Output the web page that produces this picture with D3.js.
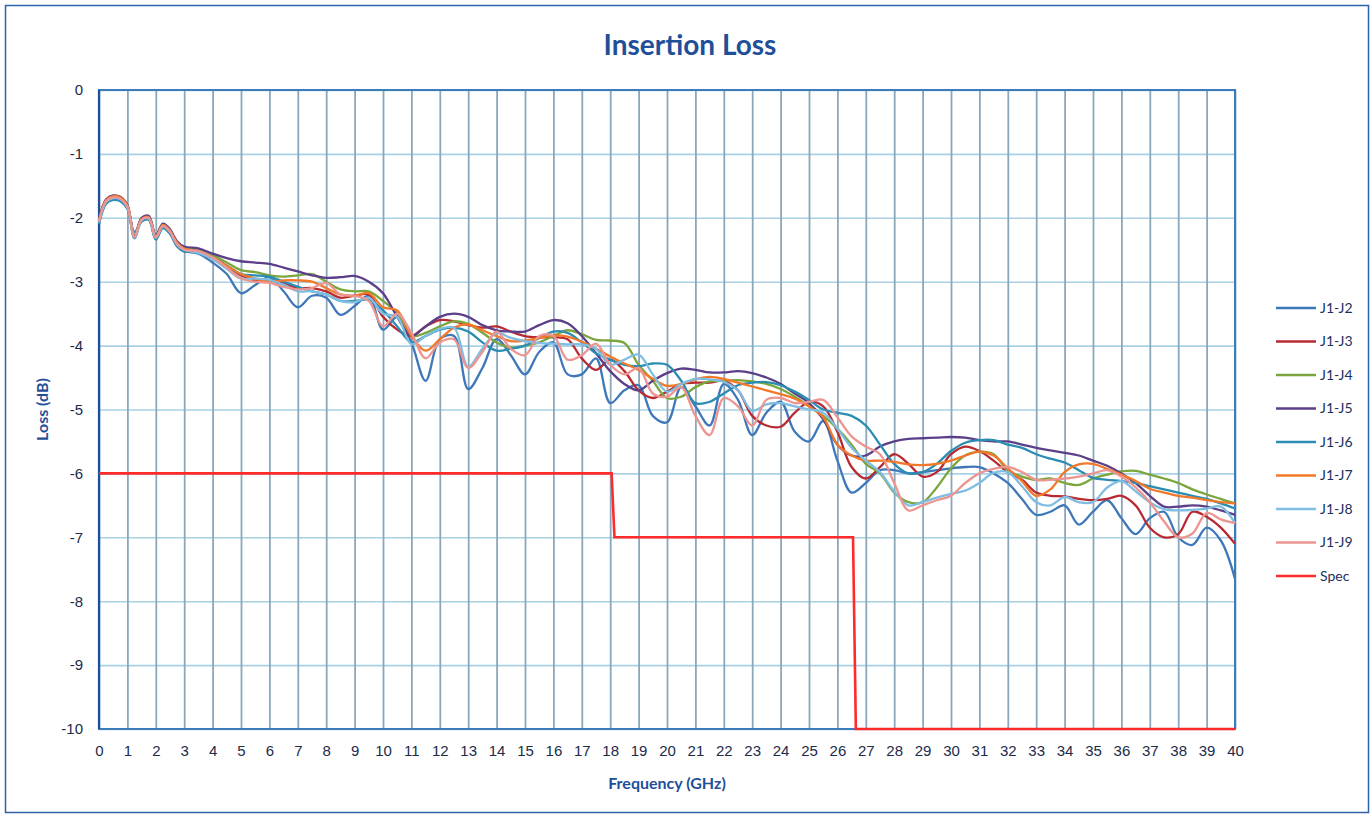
<!DOCTYPE html>
<html>
<head>
<meta charset="utf-8">
<script src="https://cdn.jsdelivr.net/npm/d3@7"></script>
<style>
  body { margin: 0; background: #fff; }
  svg { font-family: Lato, "Open Sans", sans-serif; }
</style>
</head>
<body>
<div id="chart"></div>
<script>
// frequency points (GHz)
var freq = [0, 0.25, 0.5, 0.75, 1, 1.25, 1.5, 1.75, 2, 2.25, 2.5, 2.75, 3,
  3.5, 4, 4.5, 5, 5.5, 6, 6.5, 7, 7.5, 8, 8.5, 9, 9.5, 10,
  10.5, 11, 11.5, 12, 12.5, 13, 13.5, 14, 14.5, 15, 15.5, 16, 16.5, 17, 17.5, 18, 18.5, 19, 19.5, 20,
  20.5, 21, 21.5, 22, 22.5, 23, 23.5, 24, 24.5, 25, 25.5, 26, 26.5, 27, 27.5, 28, 28.5, 29, 29.5, 30,
  30.5, 31, 31.5, 32, 32.5, 33, 33.5, 34, 34.5, 35, 35.5, 36, 36.5, 37, 37.5, 38, 38.5, 39, 39.5, 40];

var j1j2 = [-2.08, -1.76, -1.7, -1.72, -1.85, -2.32, -2.05, -2.02, -2.33, -2.15, -2.24, -2.44, -2.52,
  -2.56, -2.7, -2.88, -3.18, -3.05, -2.93, -3.15, -3.4, -3.22, -3.25, -3.52, -3.38, -3.22, -3.75,
  -3.55, -3.95, -4.55, -3.9, -3.85, -4.68, -4.35, -3.9, -4.15, -4.45, -4.1, -3.95, -4.45, -4.45, -4.2, -4.9, -4.7, -4.62, -5.1, -5.2,
  -4.65, -4.95, -5.25, -4.6, -4.85, -5.4, -5.05, -4.88, -5.35, -5.5, -5.18, -5.8, -6.3, -6.15, -5.95, -5.95, -6.0, -5.98, -5.95, -5.92,
  -5.9, -5.9, -6.0, -6.15, -6.4, -6.65, -6.6, -6.5, -6.8, -6.6, -6.42, -6.7, -6.95, -6.7, -6.6, -7.0, -7.12, -6.85, -7.05, -7.65];

var j1j3 = [-2.05, -1.73, -1.67, -1.69, -1.82, -2.3, -2.02, -2.0, -2.3, -2.12, -2.21, -2.4, -2.49,
  -2.52, -2.62, -2.75, -2.9, -2.98, -2.98, -3.02, -3.1, -3.1, -3.15, -3.25, -3.22, -3.2, -3.55,
  -3.75, -3.85, -3.7, -3.6, -3.62, -3.68, -3.72, -3.7, -3.78, -3.85, -3.87, -3.87, -3.9, -4.2, -4.38, -4.22, -4.4, -4.7, -4.82, -4.72,
  -4.6, -4.58, -4.58, -4.55, -4.7, -5.1, -5.25, -5.27, -5.05, -4.88, -4.95, -5.35, -5.9, -6.08, -5.9, -5.7, -5.85, -6.05, -5.98, -5.7,
  -5.58, -5.65, -5.8, -5.98, -6.1, -6.3, -6.35, -6.36, -6.4, -6.42, -6.4, -6.35, -6.5, -6.85, -7.0, -6.95, -6.6, -6.68, -6.85, -7.1];

var j1j4 = [-2.04, -1.72, -1.66, -1.68, -1.81, -2.28, -2.01, -1.98, -2.28, -2.1, -2.19, -2.38, -2.47,
  -2.5, -2.58, -2.7, -2.82, -2.85, -2.9, -2.92, -2.9, -2.88, -3.0, -3.12, -3.15, -3.15, -3.3,
  -3.5, -3.85, -3.8, -3.7, -3.62, -3.66, -3.8, -3.95, -4.03, -4.0, -3.95, -3.85, -3.76, -3.82, -3.91, -3.92, -3.96, -4.3, -4.55, -4.82,
  -4.8, -4.65, -4.56, -4.55, -4.54, -4.56, -4.6, -4.68, -4.8, -4.95, -5.1, -5.3, -5.55, -5.85, -6.0, -6.3, -6.45, -6.45, -6.22, -5.92,
  -5.72, -5.66, -5.7, -5.95, -6.05, -6.1, -6.08, -6.15, -6.18, -6.08, -6.02, -5.97, -5.96, -6.02, -6.08, -6.15, -6.25, -6.33, -6.4, -6.47];

var j1j5 = [-2.03, -1.71, -1.65, -1.67, -1.8, -2.28, -2.0, -1.97, -2.27, -2.09, -2.18, -2.37, -2.45,
  -2.48, -2.56, -2.63, -2.68, -2.7, -2.72, -2.78, -2.84, -2.9, -2.94, -2.93, -2.91, -3.0, -3.18,
  -3.55, -3.85, -3.7, -3.55, -3.5, -3.55, -3.68, -3.76, -3.78, -3.78, -3.68, -3.6, -3.65, -3.85, -4.12, -4.4, -4.6, -4.7, -4.55, -4.43,
  -4.36, -4.38, -4.42, -4.42, -4.4, -4.43, -4.5, -4.6, -4.75, -4.9, -5.15, -5.55, -5.72, -5.72, -5.58, -5.5, -5.46, -5.45, -5.44, -5.43,
  -5.44, -5.48, -5.5, -5.5, -5.55, -5.6, -5.64, -5.68, -5.72, -5.8, -5.88, -6.0, -6.15, -6.35, -6.52, -6.52, -6.5, -6.52, -6.58, -6.65];

var j1j6 = [-2.1, -1.78, -1.72, -1.74, -1.86, -2.22, -2.06, -2.03, -2.34, -2.16, -2.25, -2.45, -2.53,
  -2.52, -2.62, -2.75, -2.88, -2.9, -2.92, -3.0, -3.08, -3.15, -3.2, -3.3, -3.3, -3.28, -3.45,
  -3.7, -3.95, -3.85, -3.75, -3.72, -3.78, -3.95, -4.08, -4.05, -4.0, -3.88, -3.78, -3.8, -3.95, -4.12, -4.22, -4.3, -4.32, -4.28, -4.3,
  -4.55, -4.9, -4.88, -4.75, -4.62, -4.58, -4.57, -4.62, -4.72, -4.85, -5.0, -5.05, -5.1, -5.25, -5.55, -5.85, -6.0, -5.98, -5.85, -5.65,
  -5.52, -5.48, -5.48, -5.55, -5.6, -5.7, -5.77, -5.83, -5.95, -6.07, -6.1, -6.12, -6.15, -6.2, -6.25, -6.3, -6.35, -6.4, -6.47, -6.55];

var j1j7 = [-2.05, -1.72, -1.66, -1.68, -1.81, -2.29, -2.02, -1.99, -2.29, -2.11, -2.2, -2.39, -2.48,
  -2.52, -2.62, -2.75, -2.88, -2.95, -3.0, -2.98, -2.98, -3.0, -3.1, -3.2, -3.22, -3.18, -3.4,
  -3.45, -3.85, -4.08, -3.9, -3.72, -3.67, -3.76, -3.85, -3.93, -3.92, -3.88, -3.84, -3.86, -3.94, -4.05, -4.17, -4.28, -4.38, -4.52, -4.63,
  -4.6, -4.53, -4.49, -4.52, -4.58, -4.64, -4.7, -4.76, -4.83, -4.95, -5.12, -5.55, -5.72, -5.8, -5.8, -5.82, -5.86, -5.87, -5.85, -5.8,
  -5.72, -5.66, -5.72, -5.92, -6.12, -6.35, -6.25, -5.98, -5.86, -5.85, -5.93, -6.02, -6.12, -6.24, -6.3, -6.35, -6.38, -6.42, -6.45, -6.47];

var j1j8 = [-2.07, -1.75, -1.69, -1.71, -1.84, -2.31, -2.04, -2.01, -2.31, -2.13, -2.22, -2.42, -2.5,
  -2.55, -2.65, -2.8, -2.95, -2.95, -2.97, -3.05, -3.15, -3.15, -3.2, -3.3, -3.32, -3.25, -3.5,
  -3.55, -3.98, -3.85, -3.74, -3.72, -4.33, -4.05, -3.8, -3.88, -3.93, -3.96, -3.97, -3.98, -3.98, -4.05, -4.3, -4.22, -4.14, -4.45, -4.72,
  -4.6, -4.52, -4.53, -4.57, -4.7, -5.02, -4.92, -4.9, -4.95, -5.0, -5.05, -5.3, -5.6, -5.8, -5.98, -6.28, -6.5, -6.45, -6.38, -6.32,
  -6.27, -6.15, -5.99, -5.98, -6.2, -6.45, -6.5, -6.37, -6.45, -6.45, -6.22, -6.12, -6.28, -6.45, -6.56, -6.58, -6.57, -6.55, -6.52, -6.78];

var j1j9 = [-2.06, -1.74, -1.68, -1.7, -1.83, -2.3, -2.03, -2.0, -2.31, -2.13, -2.22, -2.41, -2.5,
  -2.52, -2.62, -2.78, -2.95, -3.0, -3.02, -3.08, -3.12, -3.1, -3.02, -3.2, -3.22, -3.3, -3.7,
  -3.5, -3.8, -4.2, -3.95, -3.9, -4.35, -4.1, -3.78, -4.05, -4.15, -3.85, -3.85, -4.22, -4.15, -3.97, -4.3, -4.45, -4.35, -4.75, -4.8,
  -4.65, -5.1, -5.4, -4.82, -4.95, -5.25, -4.85, -4.82, -4.9, -4.88, -4.85, -5.12, -5.42, -5.58, -5.7, -6.15, -6.58, -6.5, -6.42, -6.35,
  -6.15, -6.0, -5.93, -5.9, -5.98, -6.1, -6.1, -6.08, -6.05, -6.0, -5.95, -6.05, -6.22, -6.45, -6.75, -7.0, -6.94, -6.62, -6.72, -6.78];

// spec limit line
var specFreq = [0, 18.05, 18.15, 26.55, 26.65, 40];
var specLoss = [-6, -6, -7, -7, -10, -10];

var seriesNames = ["J1-J2", "J1-J3", "J1-J4", "J1-J5", "J1-J6", "J1-J7", "J1-J8", "J1-J9"];
var seriesValues = [j1j2, j1j3, j1j4, j1j5, j1j6, j1j7, j1j8, j1j9];
var seriesColors = ["#3f78b9", "#b82a32", "#7aa63c", "#5b3f88", "#2b8db2", "#f2782a", "#7fbde2", "#ec9591"];
var specColor = "#ff2a2a";

var xTicks = [0, 1, 2, 3, 4, 5, 6, 7, 8, 9, 10, 11, 12, 13, 14, 15, 16, 17, 18, 19, 20,
  21, 22, 23, 24, 25, 26, 27, 28, 29, 30, 31, 32, 33, 34, 35, 36, 37, 38, 39, 40];
var yTicks = [0, -1, -2, -3, -4, -5, -6, -7, -8, -9, -10];

var W = 1372, H = 816;
var margin = { top: 90, right: 137, bottom: 87, left: 99 };
var width = W - margin.left - margin.right,
  height = H - margin.top - margin.bottom;

var svg = d3.select("#chart").append("svg")
  .attr("width", W)
  .attr("height", H);

// outer chart border
svg.append("rect")
  .attr("x", 5.5).attr("y", 5.5)
  .attr("width", 1363).attr("height", 807)
  .attr("fill", "none")
  .attr("stroke", "#2f62a8")
  .attr("stroke-width", 1.5);

svg.append("text")
  .attr("x", 690).attr("y", 55)
  .attr("text-anchor", "middle")
  .attr("font-size", 28).attr("font-weight", "bold")
  .attr("fill", "#1f4f99")
  .text("Insertion Loss");

var g = svg.append("g")
  .attr("transform", "translate(" + margin.left + "," + margin.top + ")");

var x = d3.scaleLinear().domain([0, 40]).range([0, width]);
var y = d3.scaleLinear().domain([-10, 0]).range([height, 0]);

// y axis + horizontal grid
var yAxis = g.append("g")
  .call(d3.axisLeft(y).tickValues(yTicks).tickFormat(function (d) { return String(d); })
    .tickSizeInner(-width).tickSizeOuter(0).tickPadding(16));
yAxis.select(".domain").remove();
yAxis.selectAll(".tick line").attr("stroke", "#a9d1e6").attr("stroke-width", 1.6);
yAxis.selectAll(".tick text").attr("font-size", 15).attr("fill", "#1c2b4a");

// x axis + vertical grid
var xAxis = g.append("g")
  .attr("transform", "translate(0," + height + ")")
  .call(d3.axisBottom(x).tickValues(xTicks).tickFormat(function (d) { return String(d); })
    .tickSizeInner(-height).tickSizeOuter(0).tickPadding(16));
xAxis.select(".domain").remove();
xAxis.selectAll(".tick line").attr("stroke", "#8aa8bb").attr("stroke-width", 1.8);
xAxis.selectAll(".tick text").attr("font-size", 15).attr("fill", "#1c2b4a");

// plot frame
g.append("rect")
  .attr("width", width).attr("height", height)
  .attr("fill", "none")
  .attr("stroke", "#3b7cba").attr("stroke-width", 2);
g.append("line")
  .attr("x1", 0).attr("x2", 0).attr("y1", 0).attr("y2", height)
  .attr("stroke", "#1f4f99").attr("stroke-width", 2.2);

// axis titles
svg.append("text")
  .attr("transform", "translate(48," + (margin.top + height / 2) + ") rotate(-90)")
  .attr("text-anchor", "middle")
  .attr("font-size", 16).attr("font-weight", "bold")
  .attr("fill", "#1f4f99")
  .text("Loss (dB)");

svg.append("text")
  .attr("x", margin.left + x(20)).attr("y", 789)
  .attr("text-anchor", "middle")
  .attr("font-size", 16).attr("font-weight", "bold")
  .attr("fill", "#1f4f99")
  .text("Frequency (GHz)");

svg.append("clipPath").attr("id", "plotclip")
  .append("rect").attr("x", -2).attr("y", -2).attr("width", width + 4).attr("height", height + 4);

var plot = g.append("g").attr("clip-path", "url(#plotclip)");

var line = d3.line()
  .x(function (d) { return x(d[0]); })
  .y(function (d) { return y(d[1]); })
  .curve(d3.curveCatmullRom.alpha(0.5));

seriesValues.forEach(function (vals, i) {
  var pts = freq.map(function (f, k) { return [f, vals[k]]; });
  plot.append("path")
    .datum(pts)
    .attr("fill", "none")
    .attr("stroke", seriesColors[i])
    .attr("stroke-width", 2.3)
    .attr("stroke-linejoin", "round")
    .attr("d", line);
});

var specLine = d3.line()
  .x(function (d) { return x(d[0]); })
  .y(function (d) { return y(d[1]); });

plot.append("path")
  .datum(specFreq.map(function (f, k) { return [f, specLoss[k]]; }))
  .attr("fill", "none")
  .attr("stroke", specColor)
  .attr("stroke-width", 2.6)
  .attr("d", specLine);

// legend
var legendNames = seriesNames.concat(["Spec"]);
var legendColors = seriesColors.concat([specColor]);
var legend = svg.append("g").attr("transform", "translate(1276,308)");
legendNames.forEach(function (name, i) {
  var row = legend.append("g").attr("transform", "translate(0," + (i * 33.5) + ")");
  row.append("line")
    .attr("x1", 0).attr("x2", 40)
    .attr("stroke", legendColors[i]).attr("stroke-width", 2.6);
  row.append("text")
    .attr("x", 44).attr("dy", "0.35em")
    .attr("font-size", 14)
    .attr("fill", "#1c2f5e")
    .text(name);
});
</script>
</body>
</html>
